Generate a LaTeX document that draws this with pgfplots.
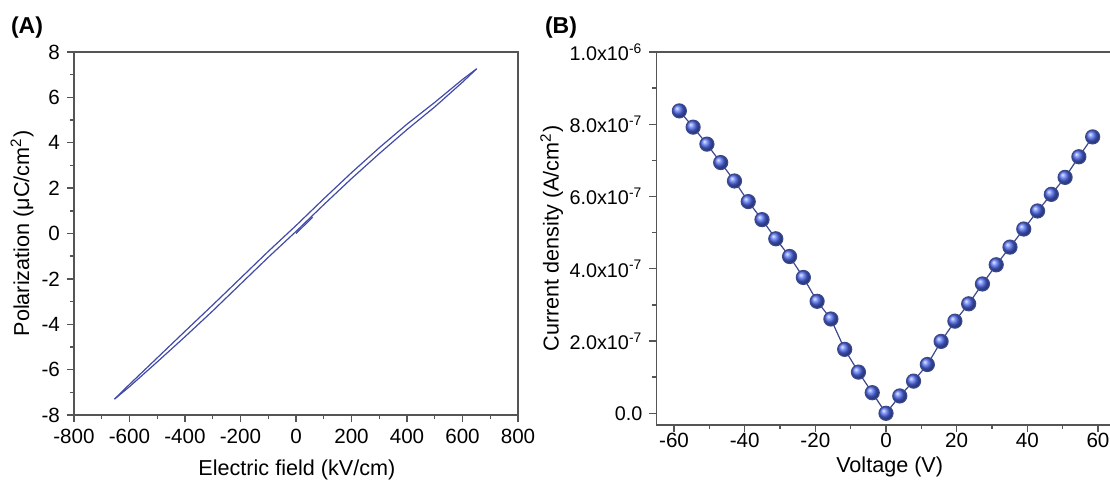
\documentclass[border=0pt]{standalone}
\usepackage{pgfplots}
\pgfplotsset{compat=1.18}
\usepackage{fontspec}
\setmainfont{Liberation Sans}

\definecolor{loopblue}{RGB}{66,74,168}
\definecolor{ballblue}{RGB}{80,108,240}
\definecolor{joinline}{RGB}{60,72,140}
\definecolor{axgray}{RGB}{85,85,85}

\pgfplotsset{
  panel/.style={
    scale only axis,
    anchor=south west,
    tick pos=left,
    tick align=outside,
    major tick length=3.5pt,
    minor tick length=2pt,
    axis line style={axgray, line width=0.75pt},
    every tick/.style={axgray, line width=0.7pt},
    tick label style={font=\fontsize{10.3}{11}\selectfont},
    label style={font=\fontsize{10.8}{12}\selectfont},
    /pgf/number format/assume math mode=true,
  }
}

\begin{document}
\begin{tikzpicture}
\useasboundingbox (0,0) rectangle (555pt,244pt);

% (A) P-E loop
\begin{axis}[panel,
  at={(37pt,36.5pt)}, width=222pt, height=181.5pt,
  xmin=-800, xmax=800, ymin=-8, ymax=8,
  xtick distance=200, ytick distance=2,
  minor x tick num=1, minor y tick num=1,
  xlabel={Electric field (kV/cm)},
  ylabel={Polarization (μC/cm\textsuperscript{2})},
  xlabel style={at={(axis description cs:0.502,-0.1515)}, anchor=center},
  ylabel style={at={(axis description cs:-0.117,0.5)}, anchor=center},
]
  % descending branch
  \addplot[loopblue, line width=0.6pt] coordinates {
    (651,7.26) (600,6.79) (500,5.78) (400,4.82) (300,3.78) (200,2.68)
    (100,1.53) (0,0.35) (-100,-0.79) (-200,-1.97) (-300,-3.15)
    (-400,-4.31) (-500,-5.48) (-600,-6.65) (-654,-7.30)};
  % ascending branch
  \addplot[loopblue, line width=0.6pt] coordinates {
    (-654,-7.30) (-600,-6.75) (-500,-5.66) (-400,-4.55) (-300,-3.41)
    (-200,-2.23) (-100,-1.05) (0,0.09) (100,1.27) (200,2.42) (300,3.52)
    (400,4.58) (500,5.58) (600,6.67) (651,7.26)};
  % initial curve
  \addplot[loopblue, line width=0.6pt] coordinates {
    (0,0) (30,0.36) (60,0.72)};
\end{axis}

% (B) J-V
\begin{axis}[panel,
  at={(328.2pt,31.5pt)}, width=229.6pt, height=186.5pt,
  xmin=-65, xmax=65, ymin=-3.24e-8, ymax=1e-6,
  xtick distance=20, minor x tick num=1,
  ytick={0,2e-7,4e-7,6e-7,8e-7,1e-6}, minor y tick num=1,
  scaled y ticks=false,
  y tick label style={font=\fontsize{9.9}{11}\selectfont},
  x tick label style={yshift=3pt},
  yticklabels={0.0, 2.0x10\textsuperscript{-7}, 4.0x10\textsuperscript{-7},
    6.0x10\textsuperscript{-7}, 8.0x10\textsuperscript{-7}, 1.0x10\textsuperscript{-6}},
  xlabel={Voltage (V)},
  ylabel={Current density (A/cm\textsuperscript{2})},
  xlabel style={at={(axis description cs:0.508,-0.1126)}, anchor=center},
  ylabel style={at={(axis description cs:-0.228,0.5)}, anchor=center},
]
  \addplot[joinline, line width=0.6pt, mark=ball, mark size=3.5pt,
    mark options={ball color=ballblue}] coordinates {
    (-58.5,8.37e-7) (-54.6,7.92e-7) (-50.7,7.45e-7) (-46.8,6.94e-7)
    (-42.9,6.43e-7) (-39.0,5.86e-7) (-35.1,5.36e-7) (-31.2,4.83e-7)
    (-27.3,4.34e-7) (-23.4,3.76e-7) (-19.5,3.10e-7) (-15.6,2.61e-7)
    (-11.7,1.77e-7) (-7.8,1.14e-7) (-3.9,0.57e-7) (0,0)
    (3.9,0.48e-7) (7.8,0.89e-7) (11.7,1.35e-7) (15.6,1.99e-7)
    (19.5,2.55e-7) (23.4,3.03e-7) (27.3,3.58e-7) (31.2,4.11e-7)
    (35.1,4.60e-7) (39.0,5.10e-7) (42.9,5.60e-7) (46.8,6.06e-7)
    (50.7,6.53e-7) (54.6,7.10e-7) (58.5,7.65e-7)};
\end{axis}

\node[font=\bfseries\fontsize{11.5}{13}\selectfont] at (13.5pt,230pt) {(A)};
\node[font=\bfseries\fontsize{11.5}{13}\selectfont] at (280.5pt,230pt) {(B)};
\end{tikzpicture}
\end{document}
